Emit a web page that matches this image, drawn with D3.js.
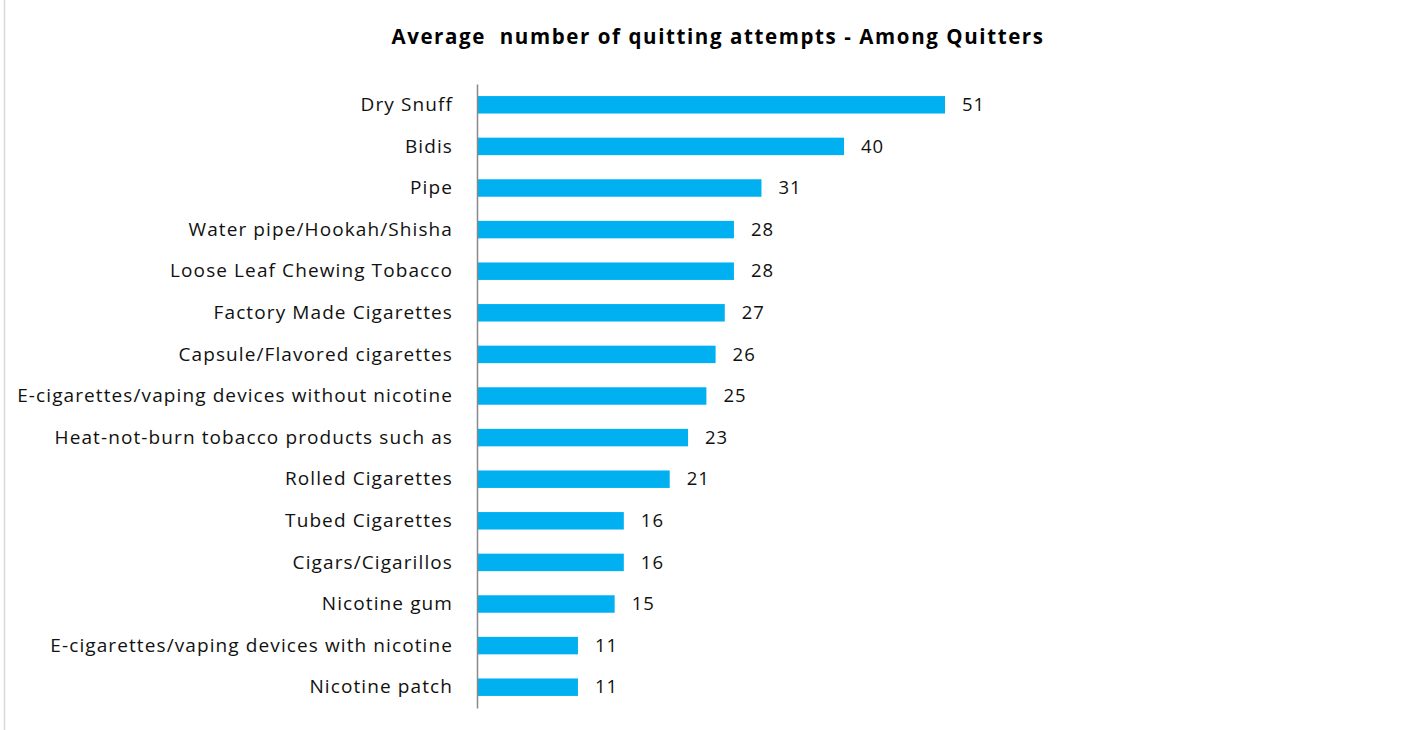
<!DOCTYPE html>
<html>
<head>
<meta charset="utf-8">
<script src="https://cdn.jsdelivr.net/npm/d3@7"></script>
<style>
  body { margin: 0; background: #fff; }
  svg { display: block; }
  text { font-family: "Open Sans", Lato, sans-serif; }
</style>
</head>
<body>
<svg id="chart" width="1412" height="730"></svg>
<script>
const categories = [
  "Dry Snuff",
  "Bidis",
  "Pipe",
  "Water pipe/Hookah/Shisha",
  "Loose Leaf Chewing Tobacco",
  "Factory Made Cigarettes",
  "Capsule/Flavored cigarettes",
  "E-cigarettes/vaping devices without nicotine",
  "Heat-not-burn tobacco products such as",
  "Rolled Cigarettes",
  "Tubed Cigarettes",
  "Cigars/Cigarillos",
  "Nicotine gum",
  "E-cigarettes/vaping devices with nicotine",
  "Nicotine patch"
];
const values = [51, 40, 31, 28, 28, 27, 26, 25, 23, 21, 16, 16, 15, 11, 11];
const title = "Average  number of quitting attempts - Among Quitters";

const svg = d3.select("#chart");
const W = 1412, H = 730;

// left frame line
svg.append("line")
  .attr("x1", 4.5).attr("x2", 4.5).attr("y1", 0).attr("y2", H)
  .attr("stroke", "#d9d9d9").attr("stroke-width", 1.5);

const x0 = 477;
const x = d3.scaleLinear().domain([0, 51]).range([x0, 945]);
const y = d3.scaleBand().domain(categories).range([84, 708]).paddingInner(0.58).paddingOuter(0.29);

svg.append("text")
  .attr("x", 718).attr("y", 44)
  .attr("text-anchor", "middle")
  .attr("font-weight", "bold")
  .attr("font-size", "20.5px")
  .attr("letter-spacing", "1.6px")
  .attr("fill", "#000")
  .style("white-space", "pre")
  .text(title);

svg.selectAll("rect.bar")
  .data(values)
  .join("rect")
  .attr("class", "bar")
  .attr("x", x(0))
  .attr("y", (d, i) => y(categories[i]))
  .attr("width", d => x(d) - x(0))
  .attr("height", y.bandwidth())
  .attr("fill", "#00B0F0");

svg.selectAll("text.val")
  .data(values)
  .join("text")
  .attr("class", "val")
  .attr("x", d => x(d) + 17)
  .attr("y", (d, i) => y(categories[i]) + y.bandwidth() / 2)
  .attr("dy", "0.33em")
  .attr("font-size", "18.5px")
  .attr("letter-spacing", "1px")
  .attr("fill", "#111")
  .text(d => d);

const yAxis = d3.axisLeft(y).tickSize(0).tickPadding(24);
const g = svg.append("g").attr("transform", `translate(${x0},0)`).call(yAxis);
g.select(".domain").attr("stroke", "#898989").attr("stroke-width", 1.5);
g.selectAll(".tick text")
  .attr("font-size", "19px")
  .attr("dy", "0.33em")
  .attr("letter-spacing", "1.1px")
  .attr("font-family", "'Open Sans', Lato, sans-serif")
  .attr("fill", "#111");
</script>
</body>
</html>
